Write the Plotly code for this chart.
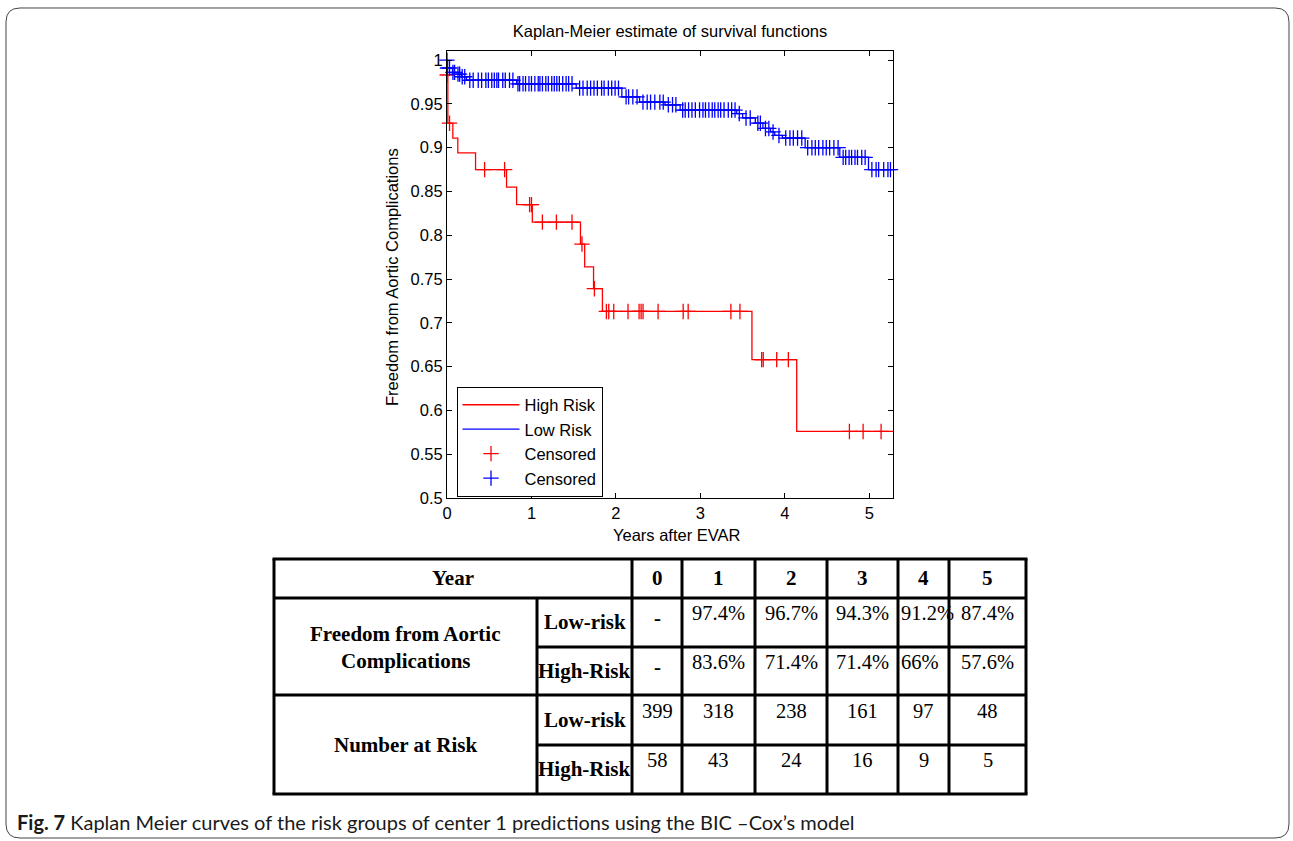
import plotly.graph_objects as go

W, H = 1293, 841

# ---------------- data ----------------
x_ticks = [0, 1, 2, 3, 4, 5]
y_ticks = [0.5, 0.55, 0.6, 0.65, 0.7, 0.75, 0.8, 0.85, 0.9, 0.95, 1.0]
y_tick_labels = ["0.5", "0.55", "0.6", "0.65", "0.7", "0.75", "0.8", "0.85", "0.9", "0.95", "1"]
follow_up_end = 5.28

high_step_t = [0, 0.002, 0.01, 0.069, 0.128, 0.338, 0.705, 0.824, 1.01, 1.58, 1.63, 1.735, 1.84, 3.61, 4.14]
high_step_s = [1.0, 0.983, 0.928, 0.911, 0.894, 0.875, 0.855, 0.835, 0.815, 0.79, 0.764, 0.739, 0.713, 0.658, 0.576]
high_cens_t = [0.003, 0.03, 0.445, 0.682, 0.978, 1.0, 1.129, 1.295, 1.48, 1.598, 1.745, 1.887, 1.915,
               1.974, 2.143, 2.274, 2.298, 2.321, 2.499, 2.796, 2.855, 3.361, 3.468, 3.725, 3.744,
               3.903, 4.041, 4.764, 4.926, 5.139]

low_step_t = [0, 0.005, 0.065, 0.125, 0.17, 0.23, 0.824, 1.53, 2.07, 2.28, 2.58, 2.76, 3.43, 3.50,
              3.65, 3.74, 3.83, 3.88, 3.97, 4.24, 4.65, 4.99]
low_step_s = [1.0, 0.991, 0.986, 0.984, 0.981, 0.977, 0.973, 0.968, 0.958, 0.952, 0.949, 0.943, 0.939,
              0.934, 0.928, 0.922, 0.918, 0.914, 0.911, 0.900, 0.889, 0.875]
low_cens_t = [0.0, 0.006, 0.03, 0.07, 0.09, 0.13, 0.15, 0.18, 0.21,
              0.27, 0.31, 0.37, 0.41, 0.46, 0.49, 0.53, 0.56, 0.59, 0.61, 0.66, 0.69, 0.74, 0.78,
              0.84, 0.86, 0.90, 0.93, 0.97, 1.00, 1.04, 1.08, 1.10, 1.13, 1.17, 1.20, 1.24, 1.27,
              1.30, 1.33, 1.37, 1.41, 1.44, 1.48,
              1.57, 1.61, 1.66, 1.70, 1.74, 1.78, 1.83, 1.86, 1.91, 1.95, 1.99, 2.03,
              2.12, 2.15, 2.20, 2.25,
              2.32, 2.37, 2.41, 2.46, 2.52, 2.56,
              2.62, 2.67, 2.71,
              2.79, 2.82, 2.86, 2.90, 2.94, 2.99, 3.03, 3.06, 3.10, 3.14, 3.17, 3.21, 3.24, 3.28,
              3.33, 3.37, 3.41,
              3.46, 3.54, 3.59, 3.68, 3.71, 3.77, 3.81, 3.86, 3.93,
              4.01, 4.06, 4.10, 4.15, 4.20,
              4.27, 4.32, 4.36, 4.40, 4.45, 4.49, 4.53, 4.58, 4.63,
              4.69, 4.72, 4.76, 4.79, 4.83, 4.86, 4.91, 4.95,
              5.03, 5.08, 5.11, 5.17, 5.22, 5.25]

table_years = ["0", "1", "2", "3", "4", "5"]
freedom_low = ["-", "97.4%", "96.7%", "94.3%", "91.2%", "87.4%"]
freedom_high = ["-", "83.6%", "71.4%", "71.4%", "66%", "57.6%"]
at_risk_low = ["399", "318", "238", "161", "97", "48"]
at_risk_high = ["58", "43", "24", "16", "9", "5"]

title_text = "Kaplan-Meier estimate of survival functions"
x_title = "Years after EVAR"
y_title = "Freedom from Aortic Complications"
caption_bold = "Fig. 7"
caption_rest = "Kaplan Meier curves of the risk groups of center 1 predictions using the BIC \u2013Cox\u2019s model"

# ---------------- helpers ----------------
def px(x):
    return x / W

def py(y):
    return 1 - y / H

def surv_at(ts, ss, t):
    v = ss[0]
    for a, b in zip(ts, ss):
        if a <= t:
            v = b
    return v

RED = "#ff0000"
BLUE = "#0000ff"
SANS = "Liberation Sans, Arial, sans-serif"
SERIF = "Liberation Serif, Times New Roman, serif"
FS = 16.5

fig = go.Figure()
fig.add_trace(go.Scatter(x=high_step_t + [follow_up_end], y=high_step_s + [high_step_s[-1]],
                         mode="lines", line=dict(color=RED, width=1.3, shape="hv"), name="High Risk"))
fig.add_trace(go.Scatter(x=low_step_t + [follow_up_end], y=low_step_s + [low_step_s[-1]],
                         mode="lines", line=dict(color=BLUE, width=1.3, shape="hv"), name="Low Risk"))
fig.add_trace(go.Scatter(x=high_cens_t, y=[surv_at(high_step_t, high_step_s, t) for t in high_cens_t],
                         mode="markers", cliponaxis=False, name="Censored",
                         marker=dict(symbol="cross-thin", size=11, line=dict(color=RED, width=1.3))))
fig.add_trace(go.Scatter(x=low_cens_t, y=[surv_at(low_step_t, low_step_s, t) for t in low_cens_t],
                         mode="markers", cliponaxis=False, name="Censored",
                         marker=dict(symbol="cross-thin", size=11, line=dict(color=BLUE, width=1.3))))

axis_common = dict(showline=True, linecolor="black", linewidth=1, mirror="ticks", ticks="inside",
                   ticklen=5, tickcolor="black", showgrid=False, zeroline=False, automargin=False,
                   tickfont=dict(family=SANS, size=FS, color="black"))

fig.update_layout(
    width=W, height=H, margin=dict(l=0, r=0, t=0, b=0, pad=0, autoexpand=False),
    paper_bgcolor="white", plot_bgcolor="white",
    xaxis=dict(domain=[px(447), px(893)], range=[0, follow_up_end], tickvals=x_ticks,
               ticktext=[str(v) for v in x_ticks], **axis_common),
    yaxis=dict(domain=[py(498), py(50.5)], range=[0.5, 1.011], tickvals=y_ticks, ticktext=y_tick_labels,
               **axis_common),
    title=dict(text=title_text, x=px(670), y=py(31), xanchor="center", yanchor="middle",
               xref="paper", yref="paper", font=dict(family=SANS, size=FS, color="black")),
    showlegend=True,
    legend=dict(x=px(456.5), y=py(386.5), xanchor="left", yanchor="top", bgcolor="white",
                bordercolor="black", borderwidth=1, font=dict(family=SANS, size=FS, color="black"),
                traceorder="normal", itemwidth=57, tracegroupgap=0),
)

annotations = []
# axis titles
annotations.append(dict(xref="paper", yref="paper", x=px(677), y=py(535), text=x_title, showarrow=False,
                        xanchor="center", yanchor="middle", font=dict(family=SANS, size=FS, color="black")))
annotations.append(dict(xref="paper", yref="paper", x=px(392), y=py(277), text=y_title, showarrow=False,
                        textangle=-90, xanchor="center", yanchor="middle",
                        font=dict(family=SANS, size=FS, color="black")))

# ---------------- table ----------------
col_edges = [274, 537, 632, 682, 755, 827, 898, 949, 1026]
row_edges = [559, 598, 647, 695, 745, 794]
LW = 3
shapes = []

def hline(y, x0, x1):
    shapes.append(dict(type="line", xref="paper", yref="paper", x0=px(x0), x1=px(x1), y0=py(y), y1=py(y),
                       line=dict(color="black", width=LW)))

def vline(x, y0, y1):
    shapes.append(dict(type="line", xref="paper", yref="paper", x0=px(x), x1=px(x), y0=py(y0), y1=py(y1),
                       line=dict(color="black", width=LW)))

hline(row_edges[0], col_edges[0] - 1.5, col_edges[-1] + 1.5)
hline(row_edges[1], col_edges[0], col_edges[-1])
hline(row_edges[2], col_edges[1], col_edges[-1])
hline(row_edges[3], col_edges[0], col_edges[-1])
hline(row_edges[4], col_edges[1], col_edges[-1])
hline(row_edges[5], col_edges[0] - 1.5, col_edges[-1] + 1.5)
vline(col_edges[0], row_edges[0], row_edges[-1])
vline(col_edges[1], row_edges[1], row_edges[-1])
for x in col_edges[2:]:
    vline(x, row_edges[0], row_edges[-1])

# rounded frame
def rr_path(x0, y0, x1, y1, r):
    def P(x, y):
        return f"{px(x):.6f},{py(y):.6f}"
    return (f"M {P(x0 + r, y0)} L {P(x1 - r, y0)} Q {P(x1, y0)} {P(x1, y0 + r)} "
            f"L {P(x1, y1 - r)} Q {P(x1, y1)} {P(x1 - r, y1)} L {P(x0 + r, y1)} "
            f"Q {P(x0, y1)} {P(x0, y1 - r)} L {P(x0, y0 + r)} Q {P(x0, y0)} {P(x0 + r, y0)} Z")

shapes.append(dict(type="path", xref="paper", yref="paper", path=rr_path(6, 8, 1289, 838, 14),
                   line=dict(color="#444444", width=1)))

BF = 21
VF = 20.5

def txt(x, y, s, bold=False, anchor="center", size=VF):
    annotations.append(dict(xref="paper", yref="paper", x=px(x), y=py(y), text=(f"<b>{s}</b>" if bold else s),
                            showarrow=False, xanchor=anchor, yanchor="middle",
                            font=dict(family=SERIF, size=size, color="black")))

val_cols = list(zip(col_edges[2:-1], col_edges[3:]))
txt((col_edges[0] + col_edges[2]) / 2, 578, "Year", bold=True, size=BF)
for (a, b), s in zip(val_cols, table_years):
    txt((a + b) / 2, 578, s, bold=True, size=BF)

grp_c = (col_edges[0] + col_edges[1]) / 2
sub_c = (col_edges[1] + col_edges[2]) / 2
txt(grp_c, 634, "Freedom from Aortic", bold=True, size=BF)
txt(grp_c, 661, "Complications", bold=True, size=BF)
txt(grp_c, 745, "Number at Risk", bold=True, size=BF)
txt(sub_c, 622, "Low-risk", bold=True, size=BF)
txt(sub_c, 671, "High-Risk", bold=True, size=BF)
txt(sub_c, 720, "Low-risk", bold=True, size=BF)
txt(sub_c, 769, "High-Risk", bold=True, size=BF)

row_text_y = [613, 662, 711, 760]
for ry, row in zip(row_text_y, [freedom_low, freedom_high, at_risk_low, at_risk_high]):
    for i, ((a, b), s) in enumerate(zip(val_cols, row)):
        if s == "-":
            txt((a + b) / 2, ry + 5, s, bold=True, size=BF)
        elif ry < 690 and i == 4:
            txt(a + 1, ry, s, anchor="left")
        else:
            txt((a + b) / 2, ry, s)

annotations.append(dict(xref="paper", yref="paper", x=px(15), y=py(822), xanchor="left", yanchor="middle",
                        showarrow=False, text=f"<b>{caption_bold}</b> {caption_rest}",
                        font=dict(family="Lato, Liberation Sans, sans-serif", size=20, color="#1a1a1a")))

fig.update_layout(shapes=shapes, annotations=annotations)
fig.write_html("out.html")
